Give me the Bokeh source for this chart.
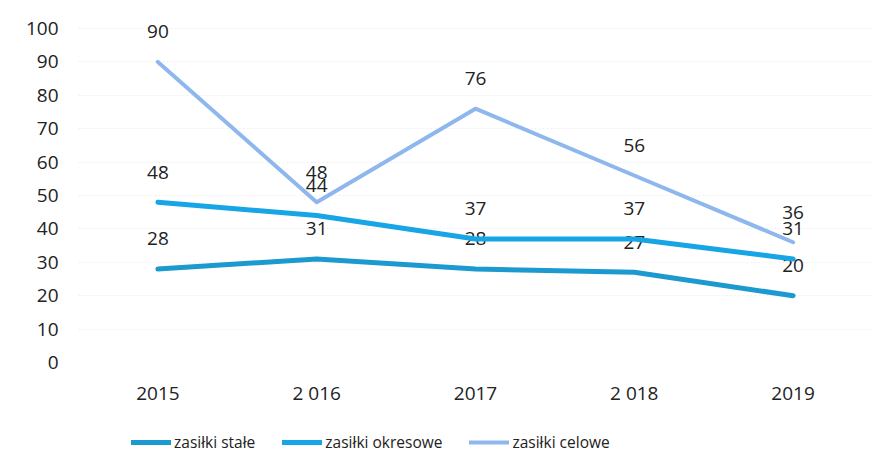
from bokeh.plotting import figure
from bokeh.layouts import column
from bokeh.models import ColumnDataSource, Legend, LegendItem, Range1d, FactorRange, FixedTicker
from bokeh.core.properties import value
from bokeh.embed import file_html
from bokeh.resources import INLINE

years = ["2015", "2 016", "2017", "2 018", "2019"]
stale = [28, 31, 28, 27, 20]
okresowe = [48, 44, 37, 37, 31]
celowe = [90, 48, 76, 56, 36]
series_names = ["zasiłki stałe", "zasiłki okresowe", "zasiłki celowe"]
colors = ["#1C9ACF", "#17A5E5", "#8EB7EE"]
y_ticks = [0, 10, 20, 30, 40, 50, 60, 70, 80, 90, 100]

FONT = "Open Sans"

xr = FactorRange(*years, range_padding=0)
p = figure(width=885, height=407, frame_width=794, frame_height=354, x_range=xr,
           y_range=Range1d(0, 106), output_backend="svg", toolbar_location=None,
           min_border_left=78, min_border_right=13, min_border_top=8, min_border_bottom=45)
p.outline_line_color = None
p.background_fill_color = "white"

p.yaxis.ticker = FixedTicker(ticks=y_ticks)
p.yaxis.axis_line_color = None
p.yaxis.major_tick_line_color = None
p.yaxis.minor_tick_line_color = None
p.yaxis.major_label_standoff = 14
p.xaxis.axis_line_color = None
p.xaxis.major_tick_line_color = None
p.xaxis.major_label_standoff = 11
for ax in (p.xaxis, p.yaxis):
    ax.major_label_text_font = FONT
    ax.major_label_text_font_size = "19px"
    ax.major_label_text_color = "#222222"
p.xgrid.grid_line_color = None
p.ygrid.grid_line_color = "#f0f0f0"
p.ygrid.grid_line_dash = "2 2"

# legend-only strip below the chart
q = figure(width=885, height=63, x_range=xr, y_range=Range1d(1000, 1001),
           output_backend="svg", toolbar_location=None,
           min_border_left=0, min_border_right=0, min_border_top=0, min_border_bottom=0)
q.axis.visible = False
q.grid.visible = False
q.outline_line_color = None

items = []
for name, vals, col, lw in zip(series_names, [stale, okresowe, celowe], colors, [5, 5, 4]):
    src = ColumnDataSource(dict(x=years, y=vals, t=[str(v) for v in vals]))
    p.line("x", "y", source=src, line_color=col, line_width=lw, line_join="round", line_cap="round")
    p.text("x", "y", text="t", source=src, text_align="center", text_baseline="middle",
           y_offset=-30, text_font=value(FONT), text_font_size="19px", text_color="#222222")
    rq = q.line("x", "y", source=src, line_color=col, line_width=lw, line_cap="round")
    items.append(LegendItem(label=name, renderers=[rq]))

legend = Legend(items=items, orientation="horizontal", location=(53, 18), glyph_width=40,
                glyph_height=20, label_standoff=3, spacing=27, label_text_font=FONT,
                label_text_font_size="15.5px", label_text_color="#222222",
                border_line_color=None, background_fill_alpha=0, padding=6, margin=0)
q.add_layout(legend, "center")

layout = column(p, q, spacing=0)
open("out.html", "w").write(file_html(layout, INLINE))
